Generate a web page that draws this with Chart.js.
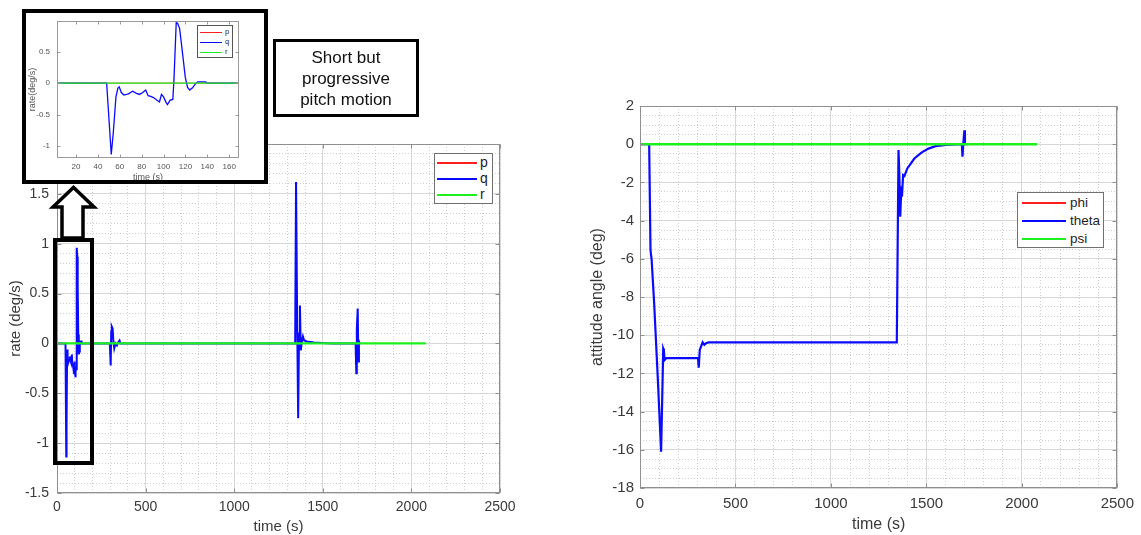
<!DOCTYPE html>
<html><head><meta charset="utf-8">
<script src="https://cdn.jsdelivr.net/npm/chart.js@4.4.1/dist/chart.umd.min.js"></script>
<style>
html,body{margin:0;padding:0;background:#fff;width:1141px;height:535px;overflow:hidden;position:relative;font-family:"Liberation Sans",Arial,sans-serif;}
.abs{position:absolute;}
canvas{display:block;}
.lg{position:absolute;background:#fff;box-sizing:border-box;}
.lg .ln{position:absolute;}
.lg .tx{position:absolute;line-height:1;transform:translateY(-55%);color:#1e1e1e;white-space:nowrap;}
</style></head><body>
<canvas id="rateChart" class="abs" width="570" height="535" style="left:0;top:0"></canvas>
<canvas id="attChart" class="abs" width="571" height="535" style="left:570px;top:0"></canvas>
<div id="rateLegend" class="lg"></div>
<div id="attLegend" class="lg"></div>
<div class="abs" style="left:53px;top:238px;width:41px;height:227px;border:4px solid #000;box-sizing:border-box;"></div>
<svg class="abs" style="left:0;top:0" width="1141" height="535">
  <polygon points="62,238 62,207 53,207 73.5,187.5 94,207 83,207 83,238" fill="#fff" stroke="#000" stroke-width="3.5" stroke-linejoin="miter"/>
</svg>
<div class="abs" style="left:22px;top:9px;width:246px;height:175px;background:#fff;">
  <canvas id="insetChart" width="246" height="175"></canvas>
</div>
<div class="abs" style="left:22px;top:9px;width:246px;height:175px;border:4px solid #000;box-sizing:border-box;"></div>
<div id="insetLegend" class="lg"></div>
<div class="abs" style="left:273px;top:39px;width:146px;height:78px;border:3px solid #000;box-sizing:border-box;display:flex;align-items:center;justify-content:center;text-align:center;font-size:17px;line-height:21px;color:#111;">Short but<br>progressive<br>pitch motion</div>
<script>
// ---- data: angular rates (deg/s) ----
const qTime = [0,48,52.2,54,56.5,58.3,59.5,61.4,63.8,67.8,71.8,74.8,77.9,81,83.7,85.9,88.3,90.8,93.8,96.3,98.1,100,102.4,103.6,106.1,108.5,109.5,111.6,112.8,114.7,116.8,119.9,122,123.9,126.3,128.8,131.2,138.6,139.2,
  298,303,306,309,314,318,323,330,338,345,353,358,364,
  1344,1349,1356,1361,1366,1371,1376,1382,1388,1395,1410,1450,1520,1560,
  1685,1689,1692,1697,1701,1704,1708,1712];
const qRate = [0,0,-1.135,-0.8,-0.22,-0.08,-0.06,-0.15,-0.19,-0.17,-0.13,-0.16,-0.18,-0.15,-0.11,-0.2,-0.21,-0.23,-0.27,-0.3,-0.18,-0.22,-0.31,-0.34,-0.27,-0.26,0.04,0.96,0.95,0.87,0.56,0.09,-0.07,-0.11,-0.08,-0.02,0.02,0.02,0,
  0,-0.22,0.12,0.17,0.15,0.02,-0.05,0,-0.02,0.01,0.03,0,0,
  0,1.62,0.1,-0.75,0.1,0.38,-0.07,0.02,0.07,0.03,0.02,0.01,0.003,0,
  0,-0.3,0.15,0.35,-0.18,0.02,0,0];
const flatTime = [0,2080];
const pRate = [0,0];
const rRate = [0,0];
// ---- data: attitude angles (deg) ----
const thetaTime = [0,48,55,61,74,92,110.5,118,121.6,125,129,138,304,307.6,313,328,337,346,359,1345,1354,1358,1363,1369,1372,1378,1385,1400,1437,1474,1511,1548,1603,1658,1686,1689,1693,1699,1702,1720];
const thetaDeg = [0,0,-5.54,-6.06,-8.3,-12,-16.1,-12.5,-10.7,-10.8,-11.3,-11.2,-11.2,-11.7,-10.77,-10.37,-10.5,-10.42,-10.38,-10.38,-0.31,-1.5,-3.8,-2.2,-2.75,-1.62,-1.67,-1.27,-0.75,-0.44,-0.23,-0.1,-0.035,-0.01,0,-0.66,0,0.73,0,0];
const phiDeg = [0,0];
const psiDeg = [0,0];
// ---- labels ----
const rateLabels = ['p','q','r'];
const attLabels = ['phi','theta','psi'];
const RED = '#ff1e1e', BLUE = '#0a0aff', GREEN = '#1ef01e';

const FONT = '"Liberation Sans", Arial, Helvetica, sans-serif';
const TXT = '#3a3a3a';
const pts = (xs, ys) => xs.map((x, i) => ({x, y: ys[i]}));
const fmt = v => String(Math.round(v * 1000) / 1000);
const keepMultiples = step => s => { s.ticks = s.ticks.filter(t => Math.abs(t.value / step - Math.round(t.value / step)) < 1e-6); };

function majorAxis(o) {
  const vertical = o.pos === 'left' || o.pos === 'right';
  return {
    type: 'linear', position: o.pos, min: o.min, max: o.max,
    afterBuildTicks: keepMultiples(o.step),
    ticks: { stepSize: o.step, includeBounds: false, padding: o.pad, color: o.color || TXT, font: { family: FONT, size: o.fontSize }, autoSkip: false, maxRotation: 0, callback: v => fmt(v) },
    grid: { display: o.grid !== false, color: '#dcdcdc', lineWidth: 1, drawTicks: false },
    border: { display: false },
    title: { display: true, text: o.title, color: o.color || TXT, font: { family: FONT, size: o.titleSize, lineHeight: 1 }, padding: o.titlePad },
    afterFit: s => { if (vertical) s.width = o.size; else s.height = o.size; }
  };
}
function minorAxis(pos, min, max, step) {
  const vertical = pos === 'left' || pos === 'right';
  return {
    type: 'linear', position: pos, min, max,
    ticks: { display: false, stepSize: step },
    grid: { color: '#cfcfcf', lineWidth: 1, drawTicks: false },
    border: { display: false, dash: [1, 2] },
    afterFit: s => { if (vertical) s.width = 0; else s.height = 0; }
  };
}
const framePlugin = {
  id: 'frame',
  afterDraw(chart, args, opts) {
    const { ctx, chartArea: a, scales } = chart;
    ctx.save();
    ctx.strokeStyle = opts.color; ctx.lineWidth = 1;
    const L = Math.round(a.left) + 0.5, T = Math.round(a.top) + 0.5, R = Math.round(a.right) - 0.5, B = Math.round(a.bottom) - 0.5;
    ctx.strokeRect(L, T, R - L, B - T);
    const len = opts.tick;
    ctx.beginPath();
    scales.x.ticks.forEach(t => { const px = Math.round(scales.x.getPixelForValue(t.value)) + 0.5; ctx.moveTo(px, B); ctx.lineTo(px, B - len); ctx.moveTo(px, T); ctx.lineTo(px, T + len); });
    scales.y.ticks.forEach(t => { const py = Math.round(scales.y.getPixelForValue(t.value)) + 0.5; ctx.moveTo(L, py); ctx.lineTo(L + len, py); ctx.moveTo(R, py); ctx.lineTo(R - len, py); });
    ctx.stroke();
    ctx.restore();
  }
};
function lineDs(label, data, color, width, order) {
  return { label, data, borderColor: color, backgroundColor: color, borderWidth: width, pointRadius: 0, tension: 0, fill: false, order };
}
const baseOpts = (padding, scales, frameColor, tick) => ({
  responsive: false, animation: false, devicePixelRatio: 1,
  layout: { padding },
  plugins: { legend: { display: false }, tooltip: { enabled: false }, frame: { color: frameColor, tick } },
  scales
});

// ---- rate chart ----
const rateChart = new Chart(document.getElementById('rateChart'), {
  type: 'line',
  data: { datasets: [
    lineDs(rateLabels[0], pts(flatTime, pRate), RED, 1, 2),
    lineDs(rateLabels[1], pts(qTime, qRate), BLUE, 2, 1),
    lineDs(rateLabels[2], pts(flatTime, rRate), GREEN, 2.2, 0)
  ]},
  options: baseOpts({ left: 0, top: 144, right: 70, bottom: 0 }, {
    x: majorAxis({ pos: 'bottom', min: 0, max: 2500, step: 500, pad: 6, fontSize: 14, title: 'time (s)', titleSize: 15, titlePad: { top: 0, bottom: 1 }, size: 42 }),
    y: majorAxis({ pos: 'left', min: -1.5, max: 2, step: 0.5, pad: 8, fontSize: 14, title: 'rate (deg/s)', titleSize: 15, titlePad: { top: 8, bottom: 0 }, size: 57 }),
    xm: minorAxis('top', 0, 2500, 100),
    ym: minorAxis('right', -1.5, 2, 0.1)
  }, '#8f8f8f', 4),
  plugins: [framePlugin]
});

// ---- attitude chart ----
const attChart = new Chart(document.getElementById('attChart'), {
  type: 'line',
  data: { datasets: [
    lineDs(attLabels[0], pts(flatTime, phiDeg), RED, 1, 2),
    lineDs(attLabels[1], pts(thetaTime, thetaDeg), BLUE, 2.2, 1),
    lineDs(attLabels[2], pts(flatTime, psiDeg), GREEN, 2.4, 0)
  ]},
  options: baseOpts({ left: 0, top: 106, right: 23, bottom: 0 }, {
    x: majorAxis({ pos: 'bottom', min: 0, max: 2500, step: 500, pad: 7, fontSize: 15, title: 'time (s)', titleSize: 16, titlePad: { top: 0, bottom: 2 }, size: 47 }),
    y: majorAxis({ pos: 'left', min: -18, max: 2, step: 2, pad: 6, fontSize: 15, title: 'attitude angle (deg)', titleSize: 16, titlePad: { top: 20, bottom: 0 }, size: 70 }),
    xm: minorAxis('top', 0, 2500, 100),
    ym: minorAxis('right', -18, 2, 0.5)
  }, '#8f8f8f', 4),
  plugins: [framePlugin]
});

// ---- inset (zoom of first pitch event) ----
const insetChart = new Chart(document.getElementById('insetChart'), {
  type: 'line',
  data: { datasets: [
    lineDs(rateLabels[0], pts(flatTime, pRate), RED, 0.8, 2),
    lineDs(rateLabels[1], pts(qTime, qRate), BLUE, 1.3, 1),
    lineDs(rateLabels[2], pts(flatTime, rRate), GREEN, 1.4, 0)
  ]},
  options: baseOpts({ left: 0, top: 10, right: 29, bottom: 0 }, {
    x: majorAxis({ pos: 'bottom', min: 2.6, max: 169, step: 20, pad: 4, fontSize: 8, title: 'time (s)', titleSize: 9, titlePad: { top: 0, bottom: 1.5 }, size: 26, grid: false, color: '#555' }),
    y: majorAxis({ pos: 'left', min: -1.19, max: 0.99, step: 0.5, pad: 7, fontSize: 8, title: 'rate(deg/s)', titleSize: 9, titlePad: { top: 6.5, bottom: 0 }, size: 35, grid: false, color: '#555' })
  }, '#9a9a9a', 3),
  plugins: [framePlugin]
});

// ---- legends built from chart datasets ----
function htmlLegend(chart, el, o) {
  el.style.left = o.left + 'px'; el.style.top = o.top + 'px';
  el.style.width = o.w + 'px'; el.style.height = o.h + 'px';
  el.style.border = '1px solid ' + o.border;
  chart.data.datasets.forEach((ds, i) => {
    const y = o.row0 + i * o.gap;
    const ln = document.createElement('div');
    ln.className = 'ln';
    ln.style.cssText = `left:${o.lineX}px;top:${y - o.lw / 2}px;width:${o.lineLen}px;height:${o.lw}px;background:${ds.borderColor};`;
    const tx = document.createElement('div');
    tx.className = 'tx';
    tx.style.cssText = `left:${o.textX}px;top:${y}px;font-size:${o.fs}px;`;
    tx.textContent = ds.label;
    el.appendChild(ln); el.appendChild(tx);
  });
}
htmlLegend(rateChart, document.getElementById('rateLegend'), { left: 434, top: 153, w: 59, h: 51, border: '#707070', row0: 9, gap: 16, lineX: 2, lineLen: 40, lw: 2, textX: 45, fs: 14 });
htmlLegend(attChart, document.getElementById('attLegend'), { left: 1017, top: 192, w: 87, h: 56, border: '#707070', row0: 9.5, gap: 18.4, lineX: 4, lineLen: 44, lw: 2, textX: 52, fs: 13.5 });
htmlLegend(insetChart, document.getElementById('insetLegend'), { left: 197, top: 25, w: 36, h: 33, border: '#555', row0: 6.3, gap: 10, lineX: 2, lineLen: 22, lw: 1.3, textX: 27, fs: 7.5 });
</script>
</body></html>
